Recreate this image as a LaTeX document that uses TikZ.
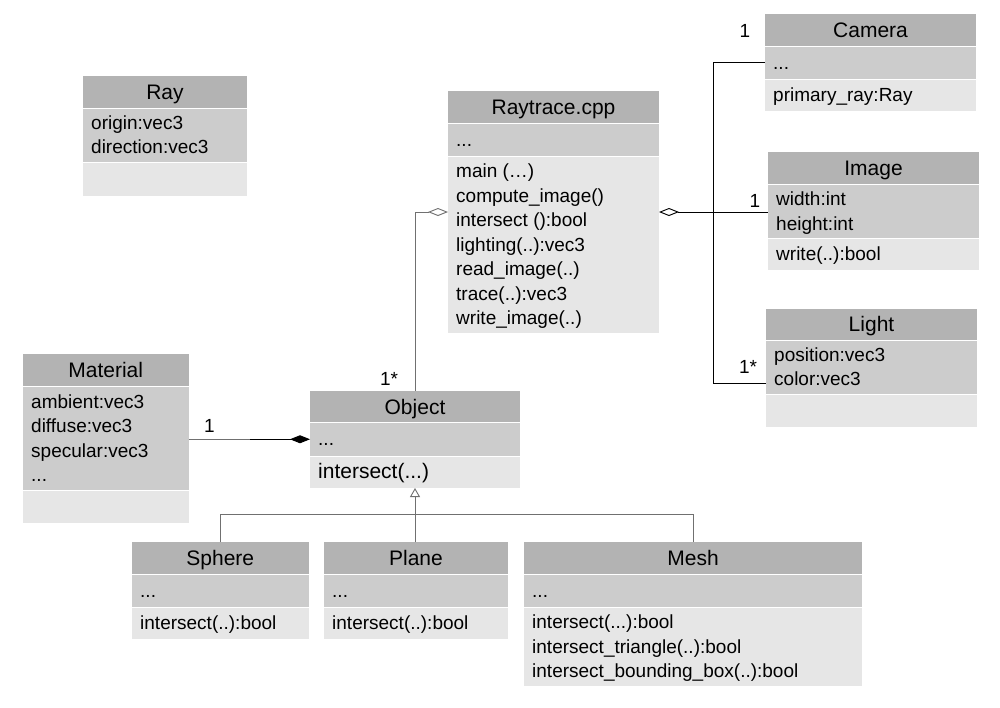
\documentclass[tikz,border=0pt]{standalone}
\usepackage{fontspec}
\setmainfont{Liberation Sans}
\usetikzlibrary{arrows.meta}
\definecolor{ctitle}{HTML}{B3B3B3}
\definecolor{cattr}{HTML}{CCCCCC}
\definecolor{cmeth}{HTML}{E6E6E6}
\definecolor{cline}{HTML}{707070}
\tikzset{
  band/.style={rectangle, draw=none, inner sep=0pt, outer sep=0pt},
  ttl/.style={inner sep=0pt, anchor=base, font=\fontsize{21}{25}\selectfont},
  bdy/.style={inner sep=0pt, anchor=base west, font=\fontsize{19}{23}\selectfont},
  bdyL/.style={inner sep=0pt, anchor=base west, font=\fontsize{21}{25}\selectfont},
  lbl/.style={inner sep=0pt, anchor=base, font=\fontsize{19}{23}\selectfont},
  conn/.style={draw=black, line width=0.9pt},
  gconn/.style={draw=cline, line width=0.9pt},
}
% #1 name, #2 xl, #3 xr, #4 y0, #5 y1, #6 y2, #7 y3, #8 title
\newcommand{\umlcls}[8]{%
  \pgfmathsetmacro\clsw{#3-#2}%
  \pgfmathsetmacro\clscx{(#2+#3)/2}%
  \pgfmathsetmacro\clsty{(#4+#5)/2+7.5}%
  \node[band, fill=ctitle, minimum width=\clsw pt, minimum height={(#5-#4)*1pt}, anchor=north west] (#1T) at (#2,#4) {};
  \node[band, fill=cattr, minimum width=\clsw pt, minimum height={(#6-#5)*1pt}, anchor=north west] (#1A) at (#2,#5) {};
  \node[band, fill=cmeth, minimum width=\clsw pt, minimum height={(#7-#6)*1pt}, anchor=north west] (#1M) at (#2,#6) {};
  \draw[white, line width=1pt] (#1A.north west) -- (#1A.north east) (#1M.north west) -- (#1M.north east);
  \node[band, minimum width=\clsw pt, minimum height={(#7-#4)*1pt}, anchor=north west] (#1) at (#2,#4) {};
  \node[ttl] (#1N) at (\clscx,\clsty) {#8};
}
\begin{document}
\begin{tikzpicture}[x=1pt, y=-1pt]
\fill[white] (0,0) rectangle (1000,707);
\useasboundingbox (0,0) rectangle (1000,707);

% Ray
\umlcls{ray}{83}{247}{76}{108.5}{162}{196}{Ray}
\node[bdy] (rayA1) at (91,129.5) {origin:vec3};
\node[bdy] (rayA2) at (91,153.5) {direction:vec3};

% Camera
\umlcls{cam}{765}{976}{14}{46}{79}{111}{Camera}
\node[bdy] (camA1) at (773,69.5) {...};
\node[bdy] (camM1) at (773,101) {primary\_ray:Ray};

% Image
\umlcls{img}{768}{979}{152}{184}{238.5}{269.5}{Image}
\node[bdy] (imgA1) at (776,205.5) {width:int};
\node[bdy] (imgA2) at (776,230) {height:int};
\node[bdy] (imgM1) at (776,260.5) {write(..):bool};

% Light
\umlcls{lgt}{766}{977}{308.5}{340}{394}{427}{Light}
\node[bdy] (lgtA1) at (774,361.3) {position:vec3};
\node[bdy] (lgtA2) at (774,385.8) {color:vec3};

% Raytrace.cpp
\umlcls{rt}{448}{659}{91}{123}{156.5}{333}{Raytrace.cpp}
\node[bdy] (rtA1) at (456,146.3) {...};
\node[bdy] (rtM1) at (456,177.75) {main (…)};
\node[bdy] (rtM2) at (456,202.25) {compute\_image()};
\node[bdy] (rtM3) at (456,226.75) {intersect ():bool};
\node[bdy] (rtM4) at (456,251.25) {lighting(..):vec3};
\node[bdy] (rtM5) at (456,275.75) {read\_image(..)};
\node[bdy] (rtM6) at (456,300.25) {trace(..):vec3};
\node[bdy] (rtM7) at (456,324.75) {write\_image(..)};

% Object
\umlcls{obj}{310}{520}{390.5}{422.5}{456}{488}{Object}
\node[bdy] (objA1) at (318,445.8) {...};
\node[bdyL] (objM1) at (318,478.5) {intersect(...)};

% Material
\umlcls{mat}{23}{188.5}{354}{386.5}{490}{522.5}{Material}
\node[bdy] (matA1) at (31,408) {ambient:vec3};
\node[bdy] (matA2) at (31,432.5) {diffuse:vec3};
\node[bdy] (matA3) at (31,457) {specular:vec3};
\node[bdy] (matA4) at (31,481.5) {...};

% Sphere
\umlcls{sph}{132}{308.5}{542.3}{574}{607.3}{639}{Sphere}
\node[bdy] (sphA1) at (140,597) {...};
\node[bdy] (sphM1) at (140,629.5) {intersect(..):bool};

% Plane
\umlcls{pln}{324}{508}{542.3}{574}{607.3}{639}{Plane}
\node[bdy] (plnA1) at (332,597) {...};
\node[bdy] (plnM1) at (332,629.5) {intersect(..):bool};

% Mesh
\umlcls{msh}{524}{862}{542.3}{574}{607.3}{685.7}{Mesh}
\node[bdy] (mshA1) at (532,597) {...};
\node[bdy] (mshM1) at (532,628.5) {intersect(...):bool};
\node[bdy] (mshM2) at (532,653) {intersect\_triangle(..):bool};
\node[bdy] (mshM3) at (532,677.5) {intersect\_bounding\_box(..):bool};

% ---- connectors ----
\coordinate (jTop) at (713,62);
\coordinate (jMid) at (713,212.5);
\coordinate (jBot) at (713,383);
\draw[conn, {Diamond[open, fill=white, length=20pt, width=8pt]}-] (rt.east) -- (rt.east -| jMid);
\draw[conn] (jTop) -- (jBot);
\draw[conn] (jTop) -- (cam.west |- jTop);
\draw[conn] (jMid) -- (img.west |- jMid);
\draw[conn] (jBot) -- (lgt.west |- jBot);
\node[lbl] (lCam) at (745,37) {1};
\node[lbl] (lImg) at (755,207.5) {1};
\node[lbl] (lLgt) at (748,373) {1*};

% Raytrace -- Object aggregation
\draw[gconn, -{Diamond[open, fill=white, length=20pt, width=8pt]}] (obj.north) |- (rt.west);
\node[lbl] (lObj) at (389,385) {1*};

% Material -- Object composition
\coordinate (cmpJ) at (250,439.25);
\draw[gconn] (mat.east |- objA.west) -- (cmpJ);
\draw[conn, -{Diamond[length=20pt, width=8pt]}] (cmpJ) -- (objA.west);
\node[lbl] (lMat) at (209.5,432) {1};

% inheritance
\coordinate (bar) at (415,514.3);
\draw[gconn, -{Triangle[open, fill=white, length=9pt, width=10pt]}] (pln.north -| obj.south) -- (obj.south);
\draw[gconn] (sph.north) -- (sph.north |- bar) -- (msh.north |- bar) -- (msh.north);
\end{tikzpicture}
\end{document}
